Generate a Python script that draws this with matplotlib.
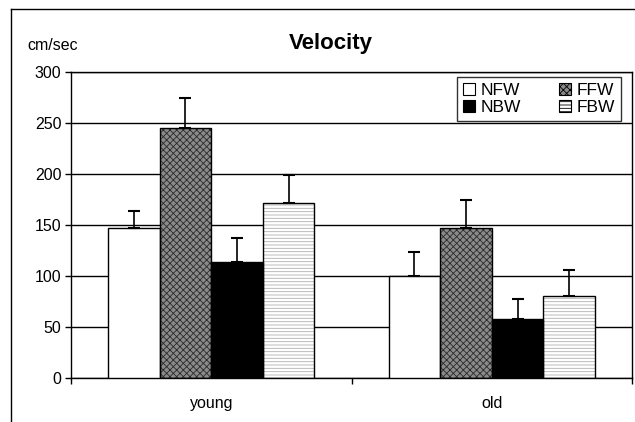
import numpy as np
import matplotlib
matplotlib.use("Agg")
import matplotlib.pyplot as plt
from matplotlib.patches import Patch
from matplotlib.lines import Line2D

plt.rcParams['font.family'] = ['Liberation Sans', 'DejaVu Sans']
plt.rcParams['hatch.linewidth'] = 0.6

# data
groups = ['young', 'old']
series = ['NFW', 'FFW', 'NBW', 'FBW']
means = {
    'NFW': [147, 100],
    'FFW': [245, 147],
    'NBW': [114, 58],
    'FBW': [172, 80],
}
errors = {
    'NFW': [17, 24],
    'FFW': [30, 28],
    'NBW': [23, 19],
    'FBW': [27, 26],
}

styles = {
    'NFW': dict(facecolor='white', hatch=None, hcolor=None),
    'FFW': dict(facecolor='#8a8a8a', hatch='xxxxx', hcolor='#2a2a2a'),
    'NBW': dict(facecolor='black', hatch=None, hcolor=None),
    'FBW': dict(facecolor='white', hatch='-----', hcolor='#b0b0b0'),
}

fig = plt.figure(figsize=(6.35, 4.22), dpi=100)
ax = fig.add_axes([71 / 635, 1 - 378 / 422, 561 / 635, 306 / 422])

x = np.arange(len(groups))
w = 0.184
for i, s in enumerate(series):
    pos = x + (i - 1.5) * w
    st = styles[s]
    if st['hatch']:
        ax.bar(pos, means[s], w, color=st['facecolor'], edgecolor=st['hcolor'],
               hatch=st['hatch'], linewidth=0, zorder=2)
        ax.bar(pos, means[s], w, fill=False, edgecolor='black', linewidth=1, zorder=3)
    else:
        ax.bar(pos, means[s], w, color=st['facecolor'], edgecolor='black',
               linewidth=1, zorder=3)
    ax.errorbar(pos, means[s], yerr=[np.zeros(len(groups)), errors[s]], fmt='none',
                ecolor='black', elinewidth=1.2, capsize=4.3, capthick=1.5, zorder=4)

ax.set_xlim(-0.5, 1.5)
ax.set_ylim(0, 300)
ax.set_yticks(np.arange(0, 301, 50))
ax.set_xticks(x)
ax.set_xticklabels(groups, fontsize=11.5)
ax.set_xticks([-0.5, 0.5, 1.5], minor=True)
ax.tick_params(axis='x', which='major', length=0, pad=13)
ax.tick_params(axis='x', which='minor', length=4, width=1)
ax.tick_params(axis='y', length=4, width=1, labelsize=11.5, pad=3)
ax.yaxis.grid(True, color='black', linewidth=1)
ax.set_axisbelow(True)
for sp in ax.spines.values():
    sp.set_linewidth(1)

fig.text(331 / 635, 1 - 44 / 422, 'Velocity', ha='center', va='center',
         fontsize=16, fontweight='bold')
fig.text(27 / 635, 1 - 45 / 422, 'cm/sec', ha='left', va='center', fontsize=11.5)

# outer chart frame (only top and left visible in the crop)
fig.add_artist(Line2D([11 / 635, 11 / 635], [0, 1 - 9 / 422], transform=fig.transFigure,
                      color='black', linewidth=1))
fig.add_artist(Line2D([11 / 635, 1], [1 - 9 / 422, 1 - 9 / 422], transform=fig.transFigure,
                      color='black', linewidth=1))

handles = []
for s in series:
    st = styles[s]
    handles.append(Patch(facecolor=st['facecolor'], edgecolor='black',
                         hatch=st['hatch'], linewidth=0.8))
order = [0, 2, 1, 3]
leg = ax.legend([handles[i] for i in order], [series[i] for i in order], ncol=2,
                loc='upper right', bbox_to_anchor=(550 / 561, 1 - 5 / 306),
                borderaxespad=0, frameon=True, fancybox=False, edgecolor='black',
                fontsize=12.5, handlelength=0.7, handleheight=0.7, handletextpad=0.3,
                columnspacing=2.2, labelspacing=0.1, borderpad=0.35)
leg.get_frame().set_linewidth(1)
leg.set_zorder(5)

fig.savefig('out.png', dpi=100)
